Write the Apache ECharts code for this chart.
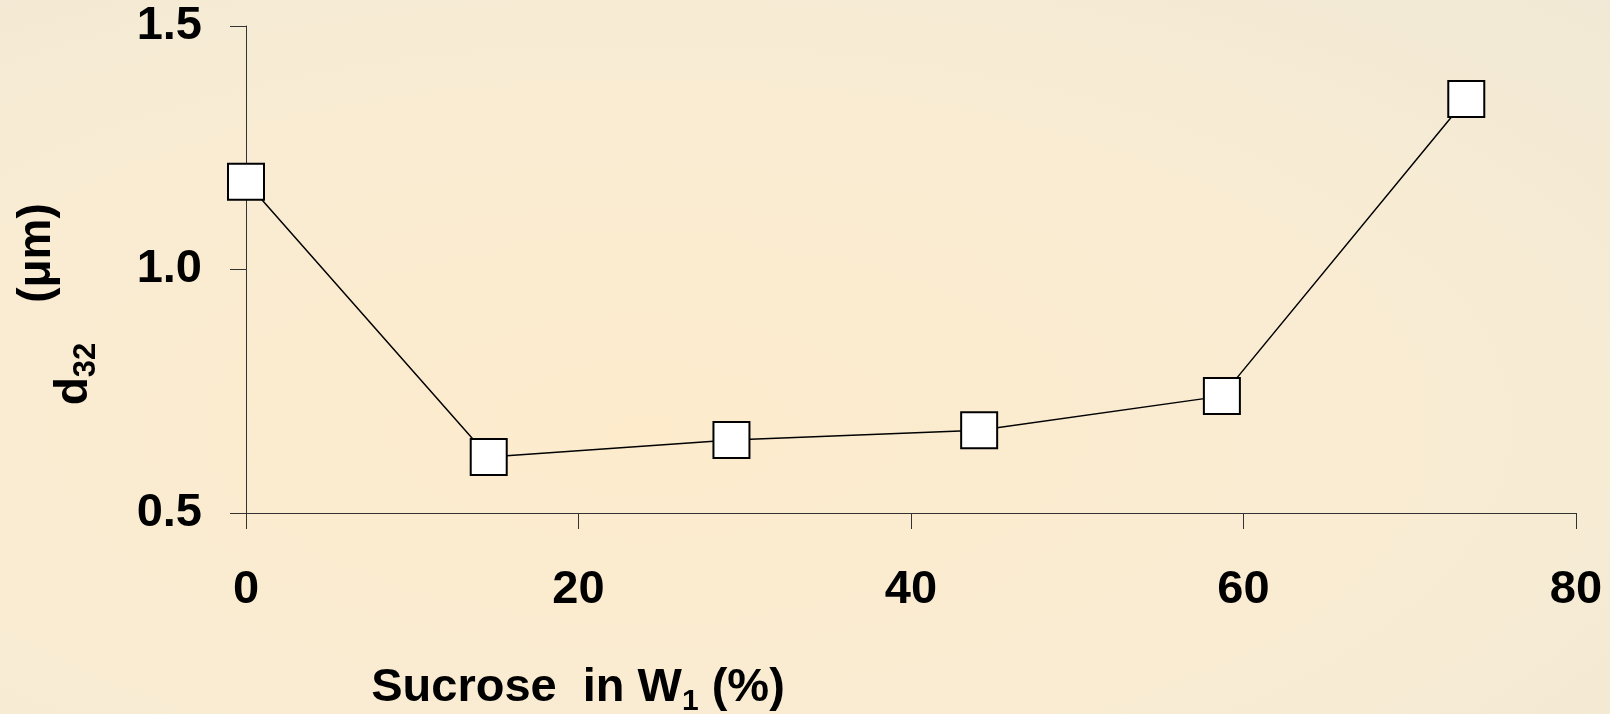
<!DOCTYPE html>
<html>
<head>
<meta charset="utf-8">
<title>d32 vs sucrose</title>
<script src="https://cdn.jsdelivr.net/npm/echarts@6/dist/echarts.min.js"></script>
<style>
  html, body { margin: 0; padding: 0; }
  #main {
    width: 1610px;
    height: 714px;
    background: radial-gradient(ellipse at 40% 60%, #fdebcc 0%, #f9ecd3 55%, #f1e9d5 100%);
  }
</style>
</head>
<body>
<div id="main"></div>
<script>
// 数据
var sucrose = [0, 14.6, 29.2, 44.1, 58.7, 73.4];
var d32 = [1.18, 0.615, 0.65, 0.67, 0.74, 1.35];
var xTicks = [0, 20, 40, 60, 80];
var yTicks = [0.5, 1.0, 1.5];

var font = '"Liberation Sans", Arial, sans-serif';

var points = [];
sucrose.forEach(function (x, i) {
  points.push([x, d32[i]]);
});

var myChart = echarts.init(document.getElementById('main'));

var option = {
  backgroundColor: 'transparent',
  animation: false,
  grid: {
    left: 246,
    right: 34,
    top: 26,
    bottom: 201
  },
  xAxis: {
    type: 'value',
    min: xTicks[0],
    max: xTicks[xTicks.length - 1],
    interval: xTicks[1] - xTicks[0],
    splitLine: {show: false},
    axisLine: {lineStyle: {color: '#333', width: 1}},
    axisTick: {show: true, length: 16, lineStyle: {color: '#333'}},
    axisLabel: {
      margin: 54,
      color: '#000',
      fontFamily: font,
      fontWeight: 'bold',
      fontSize: 47
    }
  },
  yAxis: {
    type: 'value',
    min: yTicks[0],
    max: yTicks[yTicks.length - 1],
    interval: yTicks[1] - yTicks[0],
    splitLine: {show: false},
    axisLine: {show: true, lineStyle: {color: '#333', width: 1}},
    axisTick: {show: true, length: 16, lineStyle: {color: '#333'}},
    axisLabel: {
      margin: 44,
      color: '#000',
      fontFamily: font,
      fontWeight: 'bold',
      fontSize: 47,
      formatter: function (v) { return v.toFixed(1); }
    }
  },
  // 坐标轴标题
  graphic: [
    {
      type: 'text',
      x: 37,
      y: 253,
      rotation: Math.PI / 2,
      style: {
        text: '(μm)',
        fill: '#000',
        font: 'bold 46px ' + font,
        align: 'center',
        verticalAlign: 'middle'
      }
    },
    {
      type: 'text',
      x: 74,
      y: 374,
      rotation: Math.PI / 2,
      style: {
        text: '{b|d}{s|32}',
        align: 'center',
        verticalAlign: 'middle',
        rich: {
          b: {fontFamily: font, fontWeight: 'bold', fontSize: 46, lineHeight: 56, fill: '#000', verticalAlign: 'middle'},
          s: {fontFamily: font, fontWeight: 'bold', fontSize: 31, lineHeight: 31, fill: '#000', verticalAlign: 'bottom'}
        }
      }
    },
    {
      type: 'text',
      x: 578,
      y: 688,
      style: {
        text: '{b|Sucrose  in W}{s|1}{b| (%)}',
        align: 'center',
        verticalAlign: 'middle',
        rich: {
          b: {fontFamily: font, fontWeight: 'bold', fontSize: 47, lineHeight: 58, fill: '#000', verticalAlign: 'middle'},
          s: {fontFamily: font, fontWeight: 'bold', fontSize: 30, lineHeight: 30, fill: '#000', verticalAlign: 'bottom'}
        }
      }
    }
  ],
  series: [
    {
      type: 'line',
      data: points,
      symbol: 'rect',
      symbolSize: 36,
      lineStyle: {color: '#000', width: 1.5},
      itemStyle: {color: '#fff', borderColor: '#000', borderWidth: 2}
    }
  ]
};

myChart.setOption(option);
</script>
</body>
</html>
